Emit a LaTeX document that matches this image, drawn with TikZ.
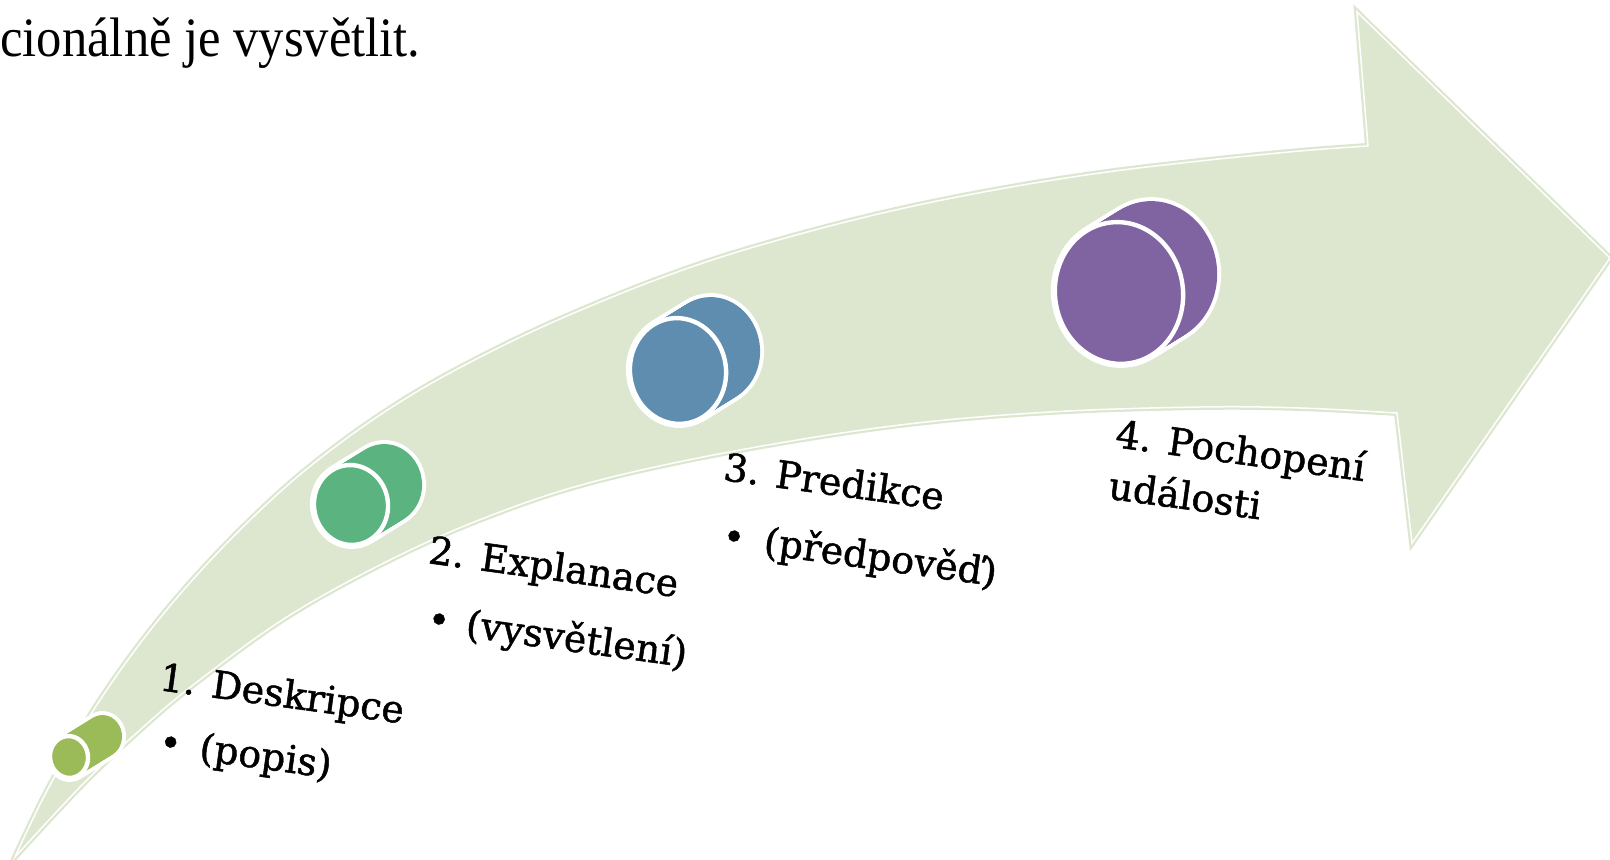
\documentclass[tikz,border=0pt]{standalone}
\usepackage{fontspec}
\setmainfont{DejaVu Serif}
\newfontfamily\lblfont[FakeBold=1.3]{DejaVu Serif}
\newfontfamily\topfont{Liberation Serif}
\definecolor{band}{HTML}{DDE7D0}
\definecolor{cA}{HTML}{9BBB59}
\definecolor{cB}{HTML}{5BB37F}
\definecolor{cC}{HTML}{5F8DAF}
\definecolor{cD}{HTML}{8064A2}
\newcommand\mycyl[5]{%
  \foreach \i in {0,...,20}{\draw[white,line width=4pt,fill=white,rotate around={8:({#1+\i*1.7},{#2-\i*1.05})}] ({#1+\i*1.7},{#2-\i*1.05}) ellipse (#3 and #4);}
  \foreach \i in {0,...,20}{\fill[#5,rotate around={8:({#1+\i*1.7},{#2-\i*1.05})}] ({#1+\i*1.7},{#2-\i*1.05}) ellipse (#3 and #4);}
  \draw[white,line width=2.2pt,fill=#5,rotate around={8:(#1,#2)}] (#1,#2) ellipse (#3 and #4);
}
\tikzset{
  lbl/.style={font=\lblfont\fontsize{19}{22}\selectfont, anchor=base west, inner sep=0pt, transform shape},
  arrowpath/.style={line join=miter}
}
\begin{document}
\begin{tikzpicture}[x=0.5pt,y=-0.5pt]
\useasboundingbox (0,0) rectangle (1610,860);
\clip (0,0) rectangle (1610,860);
% arrow key points
\coordinate (tail) at (15,857);
\coordinate (nup) at (1368,146);
\coordinate (htop) at (1357,12);
\coordinate (tip) at (1610,258);
\coordinate (hbot) at (1412,543);
\coordinate (nlo) at (1397,413);
\def\arrowshape{plot[smooth, tension=0.6] coordinates {(15,857) (50,785) (100,700) (160,618) (230,540) (308,468) (400,402) (500,347) (600,302) (700,264) (800,234) (900,209) (1000,189) (1100,173) (1200,161) (1300,151) (1368,146)} -- (htop) -- (tip) -- (hbot) -- (nlo) -- plot[smooth, tension=0.6] coordinates {(1397,413) (1300,408) (1200,407) (1050,412) (900,425) (740,450) (600,480) (500,512) (400,555) (290,615) (197,682) (140,730) (82,785) (15,857)} -- cycle}
\draw[band, line width=3pt, arrowpath] \arrowshape;
\fill[band] \arrowshape;
\draw[white, line width=0.75pt, arrowpath] \arrowshape;
% cylinders
\mycyl{69}{757}{19}{21}{cA}
\mycyl{351}{505}{37}{40}{cB}
\mycyl{678}{371}{48}{53}{cC}
\mycyl{1119}{293}{64}{71}{cD}
% labels
\begin{scope}[shift={(158,690)}, rotate=-7.8]
  \node[lbl] (l1) at (0,0) {1. Deskripce};
  \node[lbl] (b1) at (8,64) {\textbullet};
  \node[lbl] (p1) at (49,64) {(popis)};
\end{scope}
\begin{scope}[shift={(427,563)}, rotate=-7.8]
  \node[lbl] (l2) at (0,0) {2. Explanace};
  \node[lbl] (b2) at (8,68) {\textbullet};
  \node[lbl] (p2) at (47,68) {(vysvětlení)};
\end{scope}
\begin{scope}[shift={(722,480)}, rotate=-7.8]
  \node[lbl] (l3) at (0,0) {3. Predikce};
  \node[lbl] (b3) at (8,68) {\textbullet};
  \node[lbl] (p3) at (50,68) {(předpověď)};
\end{scope}
\begin{scope}[shift={(1114,447)}, rotate=-7.8]
  \node[lbl] (l4) at (0,0) {4. Pochopení};
  \node[lbl] (l4b) at (0,52) {události};
\end{scope}
% top text
\node[anchor=base west, inner sep=0pt, font=\topfont\fontsize{27.8}{30}\selectfont] (top) at (0,56.5) {\scalebox{0.91}[1]{cionálně je vysvětlit.}};
\end{tikzpicture}
\end{document}
